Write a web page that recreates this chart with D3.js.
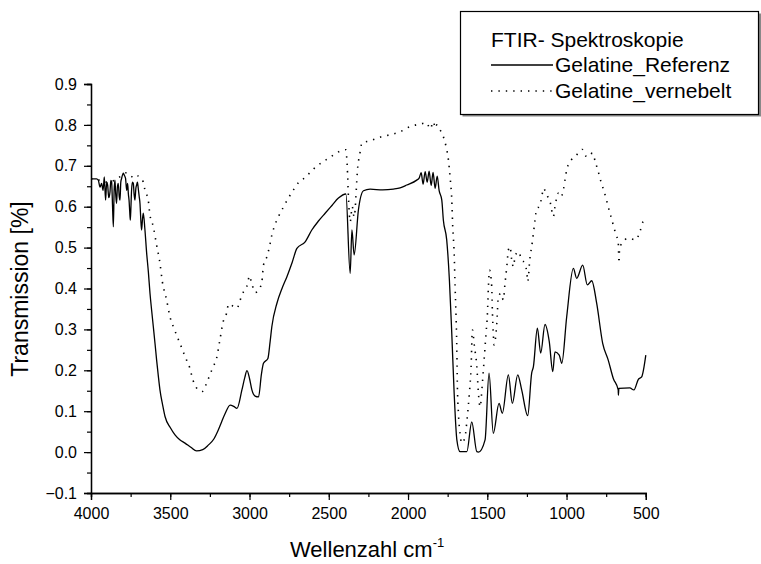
<!DOCTYPE html>
<html>
<head>
<meta charset="utf-8">
<script src="https://cdn.jsdelivr.net/npm/d3@7"></script>
<style>
  html, body { margin: 0; padding: 0; background: #fff; }
  svg { display: block; }
  text { font-family: Arial, "Liberation Sans", sans-serif; fill: #000; }
</style>
</head>
<body>
<svg id="chart" width="761" height="564"></svg>
<script>
// ---------- DATA ----------
const xTicks = [4000, 3500, 3000, 2500, 2000, 1500, 1000, 500];
const yTicks = [-0.1, 0.0, 0.1, 0.2, 0.3, 0.4, 0.5, 0.6, 0.7, 0.8, 0.9];

const refWn = [4000, 3965, 3954, 3943, 3933, 3924, 3916, 3908, 3901, 3895, 3888, 3880, 3875, 3870, 3864, 3859, 3854, 3849, 3844, 3839, 3833, 3828, 3822, 3817, 3812, 3807, 3796, 3789, 3782, 3775, 3769, 3764, 3760, 3756, 3752, 3748, 3744, 3738, 3733, 3728, 3723, 3717, 3712, 3707, 3702, 3696, 3691, 3686, 3681, 3675, 3670,
  3660, 3649, 3638, 3628, 3617, 3607, 3596, 3586, 3575, 3565, 3548, 3533, 3500, 3470, 3440, 3407, 3370, 3334, 3295, 3260, 3225, 3197, 3175, 3153, 3122, 3100, 3079, 3048, 3030, 3016, 3000, 2985, 2965, 2943, 2925, 2912, 2884, 2870, 2859, 2827, 2795, 2764, 2730, 2701, 2649, 2607, 2565, 2523, 2480, 2439, 2392,
  2365, 2354, 2340, 2313, 2281, 2239, 2160, 2092, 2050, 2008, 1945, 1930, 1917, 1905, 1892, 1879, 1867, 1854, 1842, 1829, 1816, 1804, 1787, 1777, 1756, 1739, 1724, 1709, 1692, 1672, 1629,
  1598, 1566, 1556, 1514, 1489, 1462, 1426, 1405, 1367, 1342, 1308, 1283, 1245, 1220, 1209, 1184, 1163, 1136, 1109, 1087, 1073, 1046, 1030, 999, 957, 936, 898, 869, 841, 810,
  772, 737, 705, 674, 673, 670, 601, 575, 547, 526, 500];
const refVal = [0.668, 0.668, 0.665, 0.648, 0.657, 0.640, 0.673, 0.616, 0.660, 0.653, 0.622, 0.637, 0.664, 0.661, 0.600, 0.551, 0.640, 0.665, 0.630, 0.608, 0.650, 0.657, 0.625, 0.616, 0.660, 0.669, 0.682, 0.676, 0.669, 0.640, 0.657, 0.630, 0.616, 0.590, 0.567, 0.600, 0.641, 0.660, 0.657, 0.630, 0.616, 0.645, 0.653, 0.660, 0.645, 0.625, 0.608, 0.570, 0.543, 0.570, 0.584,
  0.545, 0.487, 0.440, 0.389, 0.345, 0.307, 0.265, 0.225, 0.185, 0.152, 0.115, 0.087, 0.060, 0.042, 0.030, 0.022, 0.012, 0.003, 0.006, 0.017, 0.032, 0.054, 0.075, 0.095, 0.115, 0.112, 0.107, 0.152, 0.182, 0.199, 0.180, 0.152, 0.137, 0.135, 0.190, 0.217, 0.229, 0.270, 0.307, 0.364, 0.400, 0.429, 0.465, 0.498, 0.514, 0.543, 0.565, 0.584, 0.603, 0.621, 0.631,
  0.437, 0.543, 0.482, 0.592, 0.639, 0.643, 0.641, 0.643, 0.646, 0.653, 0.665, 0.670, 0.683, 0.655, 0.686, 0.660, 0.687, 0.652, 0.684, 0.645, 0.675, 0.640, 0.616, 0.567, 0.519, 0.421, 0.290, 0.144, 0.030, 0.001, 0.001,
  0.074, 0.001, 0.000, 0.030, 0.193, 0.046, 0.119, 0.095, 0.189, 0.119, 0.189, 0.152, 0.089, 0.193, 0.209, 0.303, 0.242, 0.312, 0.270, 0.197, 0.245, 0.237, 0.217, 0.331, 0.449, 0.425, 0.457, 0.409, 0.419, 0.364,
  0.266, 0.225, 0.180, 0.152, 0.139, 0.156, 0.157, 0.152, 0.178, 0.184, 0.237];

const nebWn = [4000, 3950, 3900, 3850, 3810, 3776, 3723, 3702, 3681, 3670, 3660, 3639, 3628, 3607, 3586, 3565, 3550, 3523, 3502, 3481, 3460, 3439, 3418, 3397, 3376, 3361, 3340, 3298,
  3271, 3250, 3229, 3208, 3187, 3166, 3145, 3132, 3079, 3059, 3038, 3010, 3002, 2985, 2964, 2943, 2922, 2912, 2890, 2870, 2859, 2842, 2817, 2786, 2758, 2723, 2687, 2649, 2603,
  2544, 2491, 2439, 2392, 2384, 2375, 2365, 2352, 2340, 2317, 2302, 2291, 2239, 2176, 2113, 2050, 1987, 1924, 1882, 1860, 1840, 1828, 1818, 1798, 1777, 1760, 1745, 1735, 1724,
  1718, 1709, 1703, 1697, 1692, 1689, 1682, 1672, 1661, 1640, 1626, 1613, 1602, 1594, 1581, 1566, 1556, 1545, 1531, 1520, 1508, 1499, 1493, 1486, 1472, 1468, 1462, 1457, 1440,
  1430, 1413, 1399, 1388, 1377, 1367, 1356, 1346, 1335, 1325, 1304, 1283, 1266, 1251, 1245, 1230, 1220, 1209, 1199, 1188, 1173, 1156, 1146, 1125, 1104, 1083, 1073, 1052, 1035,
  1020, 1010, 999, 978, 947, 926, 900, 879, 863, 837, 816, 800, 783, 766, 751, 737, 720, 705, 688, 674, 669, 666, 652, 610, 564, 537, 517, 505];
const nebVal = [0.668, 0.665, 0.660, 0.665, 0.675, 0.683, 0.669, 0.675, 0.665, 0.661, 0.641, 0.616, 0.580, 0.551, 0.506, 0.462, 0.417, 0.372, 0.331, 0.307, 0.286, 0.266, 0.245, 0.225, 0.205, 0.182, 0.160, 0.148,
  0.168, 0.189, 0.209, 0.229, 0.274, 0.319, 0.339, 0.362, 0.352, 0.372, 0.392, 0.414, 0.431, 0.411, 0.390, 0.396, 0.417, 0.457, 0.478, 0.510, 0.531, 0.553, 0.576, 0.599, 0.619, 0.641, 0.661, 0.671, 0.690,
  0.708, 0.721, 0.734, 0.739, 0.702, 0.616, 0.563, 0.600, 0.575, 0.698, 0.734, 0.756, 0.761, 0.770, 0.776, 0.783, 0.796, 0.802, 0.805, 0.790, 0.808, 0.792, 0.800, 0.788, 0.771, 0.747, 0.714, 0.673, 0.616,
  0.551, 0.486, 0.404, 0.331, 0.250, 0.168, 0.095, 0.046, 0.022, 0.038, 0.087, 0.144, 0.209, 0.299, 0.258, 0.209, 0.144, 0.111, 0.168, 0.225, 0.290, 0.339, 0.404, 0.445, 0.404, 0.347, 0.290, 0.262, 0.315,
  0.380, 0.388, 0.372, 0.413, 0.453, 0.494, 0.502, 0.470, 0.453, 0.478, 0.490, 0.470, 0.462, 0.441, 0.417, 0.478, 0.502, 0.535, 0.567, 0.596, 0.600, 0.624, 0.645, 0.629, 0.612, 0.576, 0.600, 0.633, 0.624,
  0.641, 0.665, 0.690, 0.710, 0.722, 0.731, 0.740, 0.724, 0.722, 0.731, 0.706, 0.686, 0.661, 0.641, 0.621, 0.600, 0.576, 0.555, 0.531, 0.514, 0.462, 0.494, 0.510, 0.523, 0.519, 0.539, 0.563, 0.565];

const seriesNames = ["Gelatine_Referenz", "Gelatine_vernebelt"];
const legendTitle = "FTIR- Spektroskopie";

// ---------- CHART ----------
(function () {
const svg = d3.select("#chart");
const mLeft = 91, mRight = 645.8, mTop = 84, mBottom = 493;

const x = d3.scaleLinear().domain([4000, 500]).range([mLeft, mRight]);
const y = d3.scaleLinear().domain([-0.1, 0.9]).range([mBottom, mTop]);

const xMinor = d3.range(4000, 499, -250);
const yMinor = d3.range(-0.1, 0.901, 0.05);
const font = "Arial, 'Liberation Sans', sans-serif";

function style(g) {
  g.select(".domain").attr("stroke", "#000").attr("stroke-width", 1.3);
  g.selectAll(".tick line").attr("stroke", "#000").attr("stroke-width", 1.2);
  g.selectAll("text").attr("font-size", 16).attr("font-family", font).attr("fill", "#000");
}

// x axis
const gx = svg.append("g").attr("transform", `translate(0,${mBottom})`)
  .call(d3.axisBottom(x).tickValues(xMinor).tickSize(4).tickFormat(""));
const gx2 = svg.append("g").attr("transform", `translate(0,${mBottom})`)
  .call(d3.axisBottom(x).tickValues(xTicks).tickSize(7).tickPadding(8).tickFormat(d3.format("d")));
style(gx); style(gx2);

// y axis
const gy = svg.append("g").attr("transform", `translate(${mLeft},0)`)
  .call(d3.axisLeft(y).tickValues(yMinor).tickSize(4).tickFormat(""));
const gy2 = svg.append("g").attr("transform", `translate(${mLeft},0)`)
  .call(d3.axisLeft(y).tickValues(yTicks).tickSize(7).tickPadding(7).tickFormat(d3.format(".1f")));
style(gy); style(gy2);

// curves
const line = d3.line().x(d => x(d[0])).y(d => y(d[1])).curve(d3.curveMonotoneX);
const refData = refWn.map((w, i) => [w, refVal[i]]);
const nebData = nebWn.map((w, i) => [w, nebVal[i]]);

svg.append("path").datum(nebData).attr("d", line)
  .attr("fill", "none").attr("stroke", "#000").attr("stroke-width", 1.6)
  .attr("stroke-dasharray", "1.4,6");
svg.append("path").datum(refData).attr("d", line)
  .attr("fill", "none").attr("stroke", "#000").attr("stroke-width", 1.3)
  .attr("stroke-linejoin", "round");

// axis titles
const xt = svg.append("text").attr("x", 290).attr("y", 557).attr("font-size", 22);
xt.append("tspan").text("Wellenzahl cm");
xt.append("tspan").text("-1").attr("font-size", 13).attr("dy", -10);

svg.append("text").attr("transform", "translate(28,289) rotate(-90)")
  .attr("text-anchor", "middle").attr("font-size", 23).text("Transmission [%]");

// legend
const lg = svg.append("g");
lg.append("rect").attr("x", 462.5).attr("y", 13.5).attr("width", 300).attr("height", 103)
  .attr("fill", "#888").attr("stroke", "none");
lg.append("rect").attr("x", 460.5).attr("y", 11.5).attr("width", 298).attr("height", 103)
  .attr("fill", "#fff").attr("stroke", "#000").attr("stroke-width", 1.2);
lg.append("text").attr("x", 491).attr("y", 47).attr("font-size", 21).text(legendTitle);
lg.append("line").attr("x1", 491).attr("x2", 553).attr("y1", 65).attr("y2", 65)
  .attr("stroke", "#000").attr("stroke-width", 1.3);
lg.append("text").attr("x", 555).attr("y", 72).attr("font-size", 21).text(seriesNames[0]);
lg.append("line").attr("x1", 491).attr("x2", 553).attr("y1", 91).attr("y2", 91)
  .attr("stroke", "#000").attr("stroke-width", 1.6).attr("stroke-dasharray", "1.4,6");
lg.append("text").attr("x", 555).attr("y", 98).attr("font-size", 21).text(seriesNames[1]);
})();
</script>
</body>
</html>
